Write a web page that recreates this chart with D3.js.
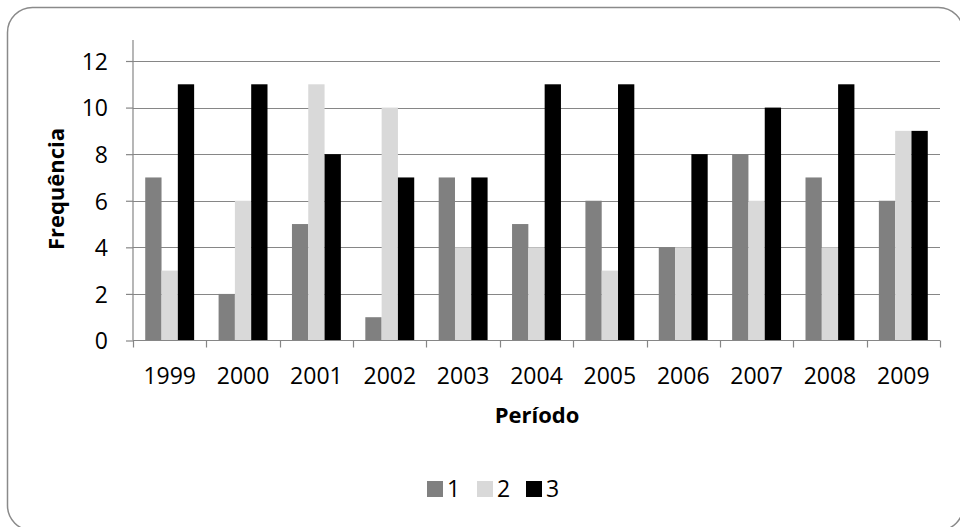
<!DOCTYPE html>
<html><head><meta charset="utf-8">
<script src="https://cdn.jsdelivr.net/npm/d3@7"></script>
<style>body{margin:0;background:#fff;overflow:hidden;} svg{display:block;} text{font-family:"Open Sans",sans-serif;}</style>
</head><body>
<svg id="c" width="960" height="527"></svg>
<script>
const years = ["1999","2000","2001","2002","2003","2004","2005","2006","2007","2008","2009"];
const seriesNames = ["1","2","3"];
const s1 = [7,2,5,1,7,5,6,4,8,7,6];
const s2 = [3,6,11,10,4,4,3,4,6,4,9];
const s3 = [11,11,8,7,7,11,11,8,10,11,9];
const yTicks = [0,2,4,6,8,10,12];
const colors = ["#808080","#d9d9d9","#000000"];
const series = [s1,s2,s3];

const svg = d3.select("#c");
svg.append("rect").attr("x",7.5).attr("y",7.5).attr("width",956).attr("height",523)
  .attr("rx",25).attr("fill","#fff").attr("stroke","#8a8a8a").attr("stroke-width",1.5);

const L=133, R=940, T=61, B=340.5;
const x = d3.scaleBand().domain(years).range([L,R]).paddingInner(0).paddingOuter(0);
const y = d3.scaleLinear().domain([0,12]).range([B,T]);
const inner = d3.scaleBand().domain(seriesNames).range([0,x.bandwidth()]).paddingInner(0).paddingOuter(0.75);

// gridlines
svg.append("g").selectAll("line").data(yTicks.filter(d=>d>0)).join("line")
  .attr("x1",L).attr("x2",R).attr("y1",d=>Math.round(y(d))+0.5).attr("y2",d=>Math.round(y(d))+0.5)
  .attr("stroke","#868686").attr("stroke-width",1.2);

// bars
series.forEach((vals,i)=>{
  svg.append("g").selectAll("rect").data(vals).join("rect")
    .attr("x",(d,j)=>x(years[j])+inner(seriesNames[i]))
    .attr("width",inner.bandwidth())
    .attr("y",d=>y(d)).attr("height",d=>B-y(d))
    .attr("fill",colors[i]);
});

// y axis
const yAxis = svg.append("g").attr("transform",`translate(${L},0)`)
  .call(d3.axisLeft(y).tickValues(yTicks).tickSize(7));
yAxis.selectAll(".domain").attr("stroke","#868686").attr("stroke-width",1.2).attr("d",`M0,40V${B}`);
yAxis.selectAll(".tick line").attr("stroke","#868686").attr("stroke-width",1.2);
yAxis.selectAll(".tick text").attr("font-size",23).attr("fill","#000").attr("dy","0.36em").attr("x",-25);

// x axis
const xAxis = svg.append("g").attr("transform",`translate(0,${B})`)
  .call(d3.axisBottom(x).tickSize(0).tickPadding(0));
xAxis.select(".domain").attr("stroke","#868686").attr("stroke-width",1.2).attr("d",`M${L},0H${R}`);
xAxis.selectAll(".tick text").attr("font-size",23).attr("fill","#000").attr("dy",0).attr("y",43);
svg.append("g").selectAll("line").data(years.concat(["end"])).join("line")
  .attr("x1",(d,j)=>Math.round(L + j*x.step())+0.5).attr("x2",(d,j)=>Math.round(L + j*x.step())+0.5)
  .attr("y1",B).attr("y2",B+7).attr("stroke","#868686").attr("stroke-width",1.2);

// axis titles
svg.append("text").attr("x",537).attr("y",423).attr("text-anchor","middle")
  .attr("font-size",22).attr("font-weight","bold").text("Período");
svg.append("text").attr("transform",`translate(64,189) rotate(-90)`)
  .attr("text-anchor","middle").attr("font-size",22).attr("font-weight","bold").text("Frequência");

// legend
const lx=[427,477,526];
const lg = svg.append("g");
seriesNames.forEach((n,i)=>{
  lg.append("rect").attr("x",lx[i]).attr("y",481).attr("width",16).attr("height",16).attr("fill",colors[i]);
  lg.append("text").attr("x",lx[i]+20).attr("y",497).attr("font-size",23).text(n);
});
</script>
</body></html>
